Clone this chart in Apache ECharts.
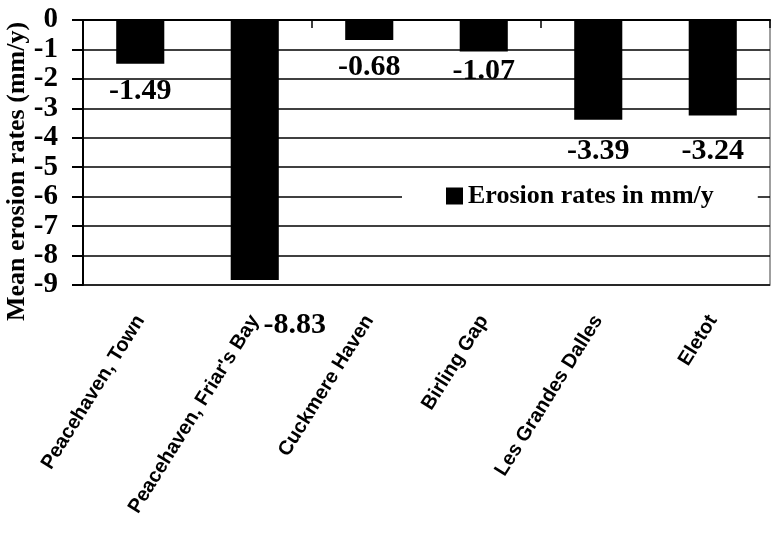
<!DOCTYPE html>
<html>
<head>
<meta charset="utf-8">
<script src="https://cdn.jsdelivr.net/npm/echarts@6/dist/echarts.min.js"></script>
<style>html,body{margin:0;padding:0;background:#fff}#c{width:774px;height:533px}</style>
</head>
<body>
<div id="c"></div>
<script>
const categories = ["Peacehaven, Town", "Peacehaven, Friar's Bay", "Cuckmere Haven", "Birling Gap", "Les Grandes Dalles", "Eletot"];
const erosionRates = [-1.49, -8.83, -0.68, -1.07, -3.39, -3.24];
const seriesName = "Erosion rates in mm/y";
const yAxisName = "Mean erosion rates (mm/y)";
const yMin = -9, yMax = 0, yStep = 1;

const SERIF = '"Liberation Serif", "Times New Roman", serif';
const SANS = '"Liberation Sans", Arial, sans-serif';

const chart = echarts.init(document.getElementById('c'), null, {renderer: 'canvas'});

// label placement tweaks (style only), keyed by category index
const labelShift = {1: [40, 18], 3: [0, -7], 4: [0, 4], 5: [0, 9]};
const seriesData = erosionRates.map((v, i) => {
  const item = {value: v};
  if (labelShift[i]) item.label = {offset: labelShift[i]};
  return item;
});

chart.setOption({
  animation: false,
  backgroundColor: '#fff',
  grid: {left: 83, right: 4, top: 20, bottom: 248, outerBoundsMode: 'none', containLabel: false, show: true, borderColor: '#808080', borderWidth: 1.5, backgroundColor: 'transparent'},
  legend: {
    show: true,
    data: [seriesName],
    left: 402, top: 173,
    backgroundColor: '#fff',
    padding: [10, 44],
    itemWidth: 17, itemHeight: 17, itemGap: 5,
    icon: 'rect',
    textStyle: {fontFamily: SERIF, fontWeight: 'bold', fontSize: 26, color: '#000'}
  },
  xAxis: [
    {
      type: 'category', data: categories, position: 'top',
      axisLine: {onZero: true, lineStyle: {color: '#000', width: 2}},
      axisTick: {show: true, inside: true, length: 8, lineStyle: {color: '#000', width: 1.5}},
      axisLabel: {show: false}, splitLine: {show: false}
    },
    {
      type: 'category', data: categories, position: 'bottom',
      axisLine: {onZero: false, show: false},
      axisTick: {show: false},
      axisLabel: {show: true, rotate: 58, margin: 32, interval: 0, fontFamily: SANS, fontWeight: 'bold', fontSize: 20, color: '#000'},
      splitLine: {show: false}
    }
  ],
  yAxis: {
    type: 'value', min: yMin, max: yMax, interval: yStep,
    name: yAxisName, nameLocation: 'middle', nameGap: 53, nameMoveOverlap: false,
    nameTextStyle: {fontFamily: SERIF, fontWeight: 'bold', fontSize: 26, color: '#000', padding: [0, 38, 0, 0]},
    axisLine: {show: true, lineStyle: {color: '#000', width: 2}},
    axisTick: {show: true, length: 11, lineStyle: {color: '#000', width: 2}},
    axisLabel: {margin: 25, fontFamily: SERIF, fontWeight: 'bold', fontSize: 29, color: '#000'},
    splitLine: {show: true, lineStyle: {color: '#000', width: 1.5}}
  },
  series: [{
    name: seriesName, type: 'bar', xAxisIndex: 0,
    data: seriesData, barWidth: '42%',
    itemStyle: {color: '#000'},
    label: {show: true, position: 'bottom', distance: 12, fontFamily: SERIF, fontWeight: 'bold', fontSize: 30, color: '#000'}
  }]
});
</script>
</body>
</html>
